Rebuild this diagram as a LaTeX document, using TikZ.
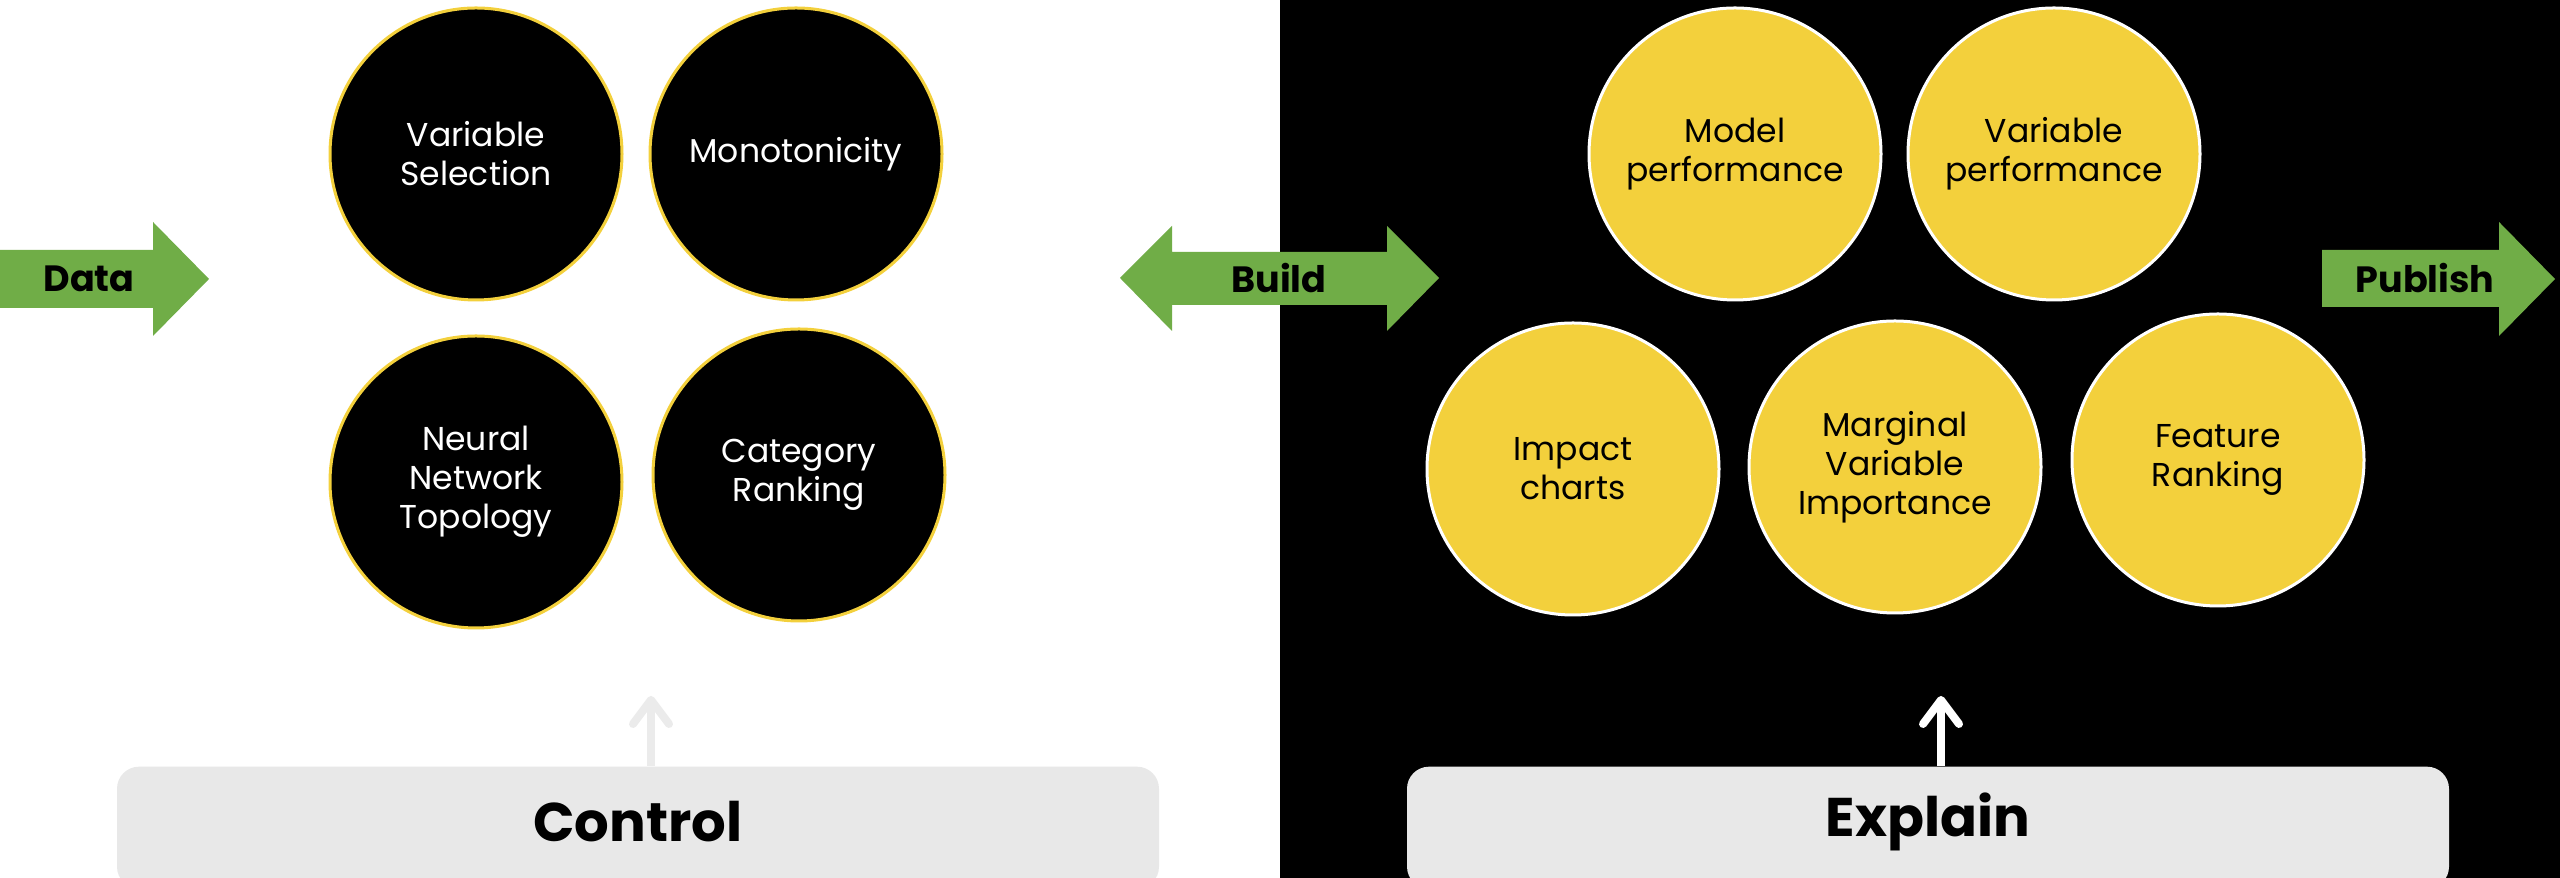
\documentclass[tikz,border=0pt]{standalone}
\usepackage{fontspec}
\setmainfont{Poppins}
\usetikzlibrary{arrows.meta}

\definecolor{leaf}{HTML}{70AD47}
\definecolor{sun}{HTML}{F3D03C}
\definecolor{mist}{HTML}{E8E8E8}
\definecolor{faint}{HTML}{EBEBEB}

\begin{document}
\begin{tikzpicture}[x=0.1mm, y=-0.1mm,
  ball/.style={circle, line width=0.3mm, minimum size=29.2mm, inner sep=0pt,
    align=center, font=\fontsize{9.4}{11.1}\selectfont},
  darkball/.style={ball, fill=black, draw=sun, text=white},
  goldball/.style={ball, fill=sun, draw=white, text=black},
  panel/.style={fill=mist, rounded corners=2.2mm, minimum height=12.2mm,
    inner sep=0pt, anchor=north},
  panellabel/.style={font=\fontsize{15.5}{18}\selectfont\bfseries, text=black, inner sep=0pt},
  flowlabel/.style={font=\fontsize{10.4}{12}\selectfont\bfseries, text=black, inner sep=0pt},
  flow/.style={fill=leaf},
  riser/.style={line width=0.8mm,
    -{Straight Barb[length=2.4mm, width=3.6mm, round]}},
]
\useasboundingbox (0,0) rectangle (2560,878);
\clip (0,0) rectangle (2560,878);

% two halves of the canvas
\fill[white] (0,0) rectangle (1280,878);
\fill[black] (1280,0) rectangle (2560,878);

% control group
\node[darkball] (varsel) at (476,154) {Variable\\Selection};
\node[darkball] (mono)   at (796,154) {Monotonicity};
\node[darkball] (nnt)    at (476,482) {Neural\\Network\\Topology};
\node[darkball] (catrk)  at (799,475) {Category\\Ranking};

% explain group
\node[goldball] (modperf) at (1735,154) {Model\\performance};
\node[goldball] (varperf) at (2054,154) {Variable\\performance};
\node[goldball] (impact)  at (1573,469) {Impact\\charts};
\node[goldball] (margvi)  at (1895,467) {Marginal\\Variable\\Importance};
\node[goldball] (featrk)  at (2218,460) {Feature\\Ranking};

% green flow arrows
\fill[flow] (0,250) -- (153,250) -- (153,222) -- (209,279) -- (153,336)
  -- (153,308) -- (0,308) -- cycle;
\node[flowlabel] (data) at (89,279) {Data};

\fill[flow] (1120,278) -- (1172,226) -- (1172,252) -- (1387,252) -- (1387,226)
  -- (1439,278) -- (1387,331) -- (1387,305) -- (1172,305) -- (1172,331) -- cycle;
\node[flowlabel] (build) at (1279,278) {Build};

\fill[flow] (2322,250) -- (2499,250) -- (2499,222) -- (2555,279) -- (2499,336)
  -- (2499,307) -- (2322,307) -- cycle;
\node[flowlabel] (publish) at (2425,278) {Publish};

% bottom panels
\node[panel, minimum width=104.2mm] (ctrl) at (638,766) {};
\node[panellabel] (ctrltxt) at (638,822) {Control};
\node[panel, minimum width=104.2mm] (expl) at (1928,766) {};
\node[panellabel] (expltxt) at (1928,822) {Explain};

% risers from the panels
\coordinate (ctrltip) at (651,696);
\coordinate (expltip) at (1941,696);
\draw[riser, faint] (ctrl.north -| ctrltip) -- (ctrltip);
\draw[riser, white] (expl.north -| expltip) -- (expltip);
\end{tikzpicture}
\end{document}
